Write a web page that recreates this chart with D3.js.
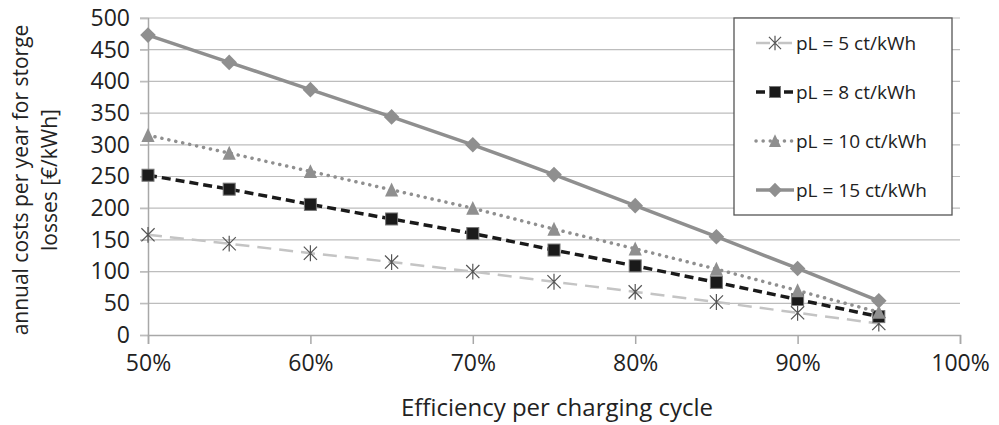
<!DOCTYPE html>
<html>
<head>
<meta charset="utf-8">
<script src="https://cdn.jsdelivr.net/npm/d3@7"></script>
<style>
  body { margin: 0; background: #fff; }
  text { font-family: "Open Sans", sans-serif; fill: #222; }
</style>
</head>
<body>
<svg></svg>
<script>
const svgWidth = 999;
const svgHeight = 425;
const svg = d3.select("svg")
    .attr("width", svgWidth)
    .attr("height", svgHeight);

// efficiency per charging cycle
const efficiency = [0.50, 0.55, 0.60, 0.65, 0.70, 0.75, 0.80, 0.85, 0.90, 0.95];
const pL5 = [158, 144, 129, 115, 100, 84, 68, 52, 35, 18];
const pL8 = [252, 230, 206, 183, 160, 134, 109, 83, 56, 29];
const pL10 = [315, 287, 258, 229, 200, 167, 136, 104, 70, 36];
const pL15 = [473, 430, 387, 344, 300, 253, 204, 155, 105, 54];
const seriesNames = ["pL = 5 ct/kWh", "pL = 8 ct/kWh", "pL = 10 ct/kWh", "pL = 15 ct/kWh"];
const yTicks = [0, 50, 100, 150, 200, 250, 300, 350, 400, 450, 500];
const xTicks = [0.5, 0.6, 0.7, 0.8, 0.9, 1.0];

const margin = {top: 18, right: 39, bottom: 90, left: 148};
const width = svgWidth - margin.left - margin.right;
const height = svgHeight - margin.top - margin.bottom;

const g = svg.append("g")
    .attr("transform", "translate(" + margin.left + "," + margin.top + ")");

const x = d3.scaleLinear().domain([0.5, 1.0]).range([0, width]);
const y = d3.scaleLinear().domain([0, 500]).range([height, 0]);

// gridlines
g.append("g")
    .selectAll("line")
    .data(yTicks.slice(1))
    .enter().append("line")
    .attr("x1", -8)
    .attr("x2", width)
    .attr("y1", d => y(d))
    .attr("y2", d => y(d))
    .attr("stroke", "#bdbdbd")
    .attr("stroke-width", 1.2);

// y axis
const yAxis = g.append("g")
    .call(d3.axisLeft(y).tickValues(yTicks).tickSize(8).tickPadding(10));
yAxis.select(".domain").attr("stroke", "#a8a8a8").attr("stroke-width", 1.5);
yAxis.selectAll(".tick line").attr("stroke", "#bdbdbd").attr("stroke-width", 1.2);
yAxis.selectAll(".tick text").attr("font-size", 23).attr("font-family", "'Open Sans', sans-serif").attr("fill", "#222");

// x axis
const xAxis = g.append("g")
    .attr("transform", "translate(0," + height + ")")
    .call(d3.axisBottom(x).tickValues(xTicks).tickFormat(d3.format(".0%")).tickSize(9).tickPadding(11));
xAxis.select(".domain").attr("stroke", "#a8a8a8").attr("stroke-width", 1.5);
xAxis.selectAll(".tick line").attr("stroke", "#a8a8a8").attr("stroke-width", 1.5);
xAxis.selectAll(".tick text").attr("font-size", 23).attr("font-family", "'Open Sans', sans-serif").attr("fill", "#222");

// series
const series = [
    {name: seriesNames[0], values: pL5, color: "#c4c4c4", width: 2.5, dash: "14,8", marker: "asterisk", mcolor: "#555"},
    {name: seriesNames[1], values: pL8, color: "#1a1a1a", width: 3.5, dash: "9,5", marker: "square", mcolor: "#1a1a1a"},
    {name: seriesNames[2], values: pL10, color: "#8f8f8f", width: 3.5, dash: "0.1,7", marker: "triangle", mcolor: "#8f8f8f"},
    {name: seriesNames[3], values: pL15, color: "#8f8f8f", width: 3.5, dash: null, marker: "diamond", mcolor: "#8f8f8f"}
];

const line = d3.line()
    .x((d, i) => x(efficiency[i]))
    .y(d => y(d));

function drawMarker(sel, s, size) {
    const r = size / 2;
    if (s.marker === "asterisk") {
        const a = r * 1.1;
        const p = "M" + (-a) + "," + (-a) + "L" + a + "," + a +
            "M" + (-a) + "," + a + "L" + a + "," + (-a) +
            "M0," + (-a * 1.2) + "L0," + (a * 1.2);
        sel.append("path").attr("d", p).attr("stroke", s.mcolor).attr("stroke-width", 1.2).attr("fill", "none");
    } else if (s.marker === "square") {
        sel.append("rect").attr("x", -r).attr("y", -r).attr("width", size).attr("height", size)
            .attr("fill", s.mcolor).attr("stroke", "#777").attr("stroke-width", 1);
    } else if (s.marker === "triangle") {
        const h = r * 1.1;
        sel.append("path").attr("d", "M0," + (-h * 1.1) + "L" + (r * 1.1) + "," + h + "L" + (-r * 1.1) + "," + h + "Z")
            .attr("fill", s.mcolor);
    } else {
        const w = r * 1.3;
        sel.append("path").attr("d", "M0," + (-w) + "L" + w + ",0L0," + w + "L" + (-w) + ",0Z")
            .attr("fill", s.mcolor);
    }
}

series.forEach(s => {
    g.append("path")
        .datum(s.values)
        .attr("d", line)
        .attr("fill", "none")
        .attr("stroke", s.color)
        .attr("stroke-width", s.width)
        .attr("stroke-linecap", s.dash === "0.1,7" ? "round" : "butt")
        .attr("stroke-dasharray", s.dash);

    g.append("g")
        .selectAll("g")
        .data(s.values)
        .enter().append("g")
        .attr("transform", (d, i) => "translate(" + x(efficiency[i]) + "," + y(d) + ")")
        .each(function() { drawMarker(d3.select(this), s, 12); });
});

// legend
const legend = svg.append("g")
    .attr("transform", "translate(734,18)");

legend.append("rect")
    .attr("width", 218)
    .attr("height", 197)
    .attr("fill", "#fff")
    .attr("stroke", "#555")
    .attr("stroke-width", 1.3);

const item = legend.selectAll(".item")
    .data(series)
    .enter().append("g")
    .attr("class", "item")
    .attr("transform", (d, i) => "translate(0," + (25 + i * 49) + ")");

item.append("line")
    .attr("x1", 22)
    .attr("x2", 60)
    .attr("stroke", d => d.color)
    .attr("stroke-width", d => d.width)
    .attr("stroke-linecap", d => d.dash === "0.1,7" ? "round" : "butt")
    .attr("stroke-dasharray", d => d.dash);

item.append("g")
    .attr("transform", "translate(41,0)")
    .each(function(d) { drawMarker(d3.select(this), d, 11); });

item.append("text")
    .attr("x", 62)
    .attr("dy", "0.35em")
    .attr("font-size", 19)
    .text(d => d.name);

// axis titles
svg.append("text")
    .attr("x", 557)
    .attr("y", 416)
    .attr("text-anchor", "middle")
    .attr("font-size", 24)
    .text("Efficiency per charging cycle");

const yTitle = svg.append("text")
    .attr("transform", "translate(28,180) rotate(-90)")
    .attr("text-anchor", "middle")
    .attr("font-size", 21);
yTitle.append("tspan").attr("x", 0).attr("y", 0).text("annual costs per year for storge");
yTitle.append("tspan").attr("x", 0).attr("y", 29).text("losses [€/kWh]");
</script>
</body>
</html>
